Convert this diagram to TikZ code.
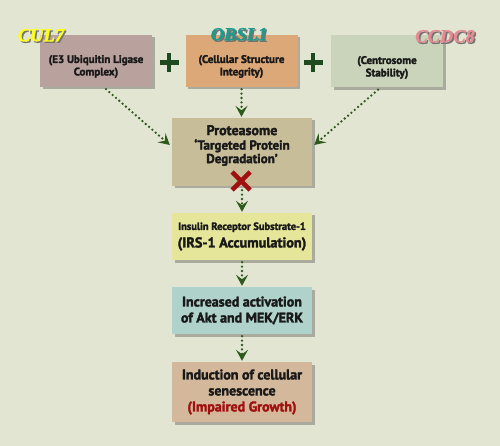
\documentclass[tikz,border=0pt]{standalone}
\usepackage{fontspec}
\setmainfont{PT Sans}[BoldFeatures={FakeBold=2.2}]
\newfontfamily\genefont{Liberation Serif}[BoldItalicFeatures={FakeBold=1.5}]
\usepackage{tikz}
\usetikzlibrary{arrows.meta,shadows}

\definecolor{bgcol}{HTML}{E3E5D3}
\definecolor{arrowgreen}{HTML}{2E5A1C}
\definecolor{plusgreen}{HTML}{1F4A1F}
\definecolor{culfill}{HTML}{B9A29D}
\definecolor{obslfill}{HTML}{DDA877}
\definecolor{ccdcfill}{HTML}{C9D4BA}
\definecolor{protfill}{HTML}{C7BD98}
\definecolor{irsfill}{HTML}{E6E69A}
\definecolor{aktfill}{HTML}{AFD3CB}
\definecolor{senfill}{HTML}{D3B89B}
\definecolor{crossred}{HTML}{A01010}
\definecolor{culyellow}{HTML}{FFFF10}
\definecolor{obslteal}{HTML}{1E9A8C}
\definecolor{ccdcpink}{HTML}{E48A90}

% gene name with its own offset shadow
\newcommand*{\shadedname}[2]{%
    \makebox[0pt][l]{\hspace{1.5pt}\raisebox{-1.5pt}{\textcolor{black!55}{#2}}}%
    \textcolor{#1}{#2}}

\begin{document}
\begin{tikzpicture}[
    x=1pt, y=-1pt,
    box/.style={
        rectangle, inner sep=0pt, align=center, text=black!90,
        font=\bfseries\fontsize{14}{16}\selectfont,
        drop shadow={shadow xshift=2.5pt, shadow yshift=-2.5pt,
                     fill=black, opacity=0.25}
    },
    topbox/.style={box, minimum width=112pt, minimum height=52pt},
    lowbox/.style={box, minimum width=140pt},
    boxtext/.style={inner sep=0pt, align=center, text=black!90},
    toptext/.style={boxtext, font=\bfseries\fontsize{11}{12.5}\selectfont},
    genelabel/.style={font=\genefont\bfseries\itshape\fontsize{18.5}{18}\selectfont,
                      inner sep=0pt},
    dotarrow/.style={arrowgreen, line width=2.6pt, line cap=round,
                     dash pattern=on 0pt off 4.4pt,
                     -{Stealth[length=11pt, width=12pt, inset=4.5pt, line cap=butt]}},
    plusmark/.style={plusgreen, line width=4.8pt},
    crossmark/.style={crossred, line width=4.6pt}
]
    \useasboundingbox[fill=bgcol] (0,0) rectangle (500,446);

    % top row
    \node[topbox, fill=culfill] (cul) at (96,61) {};
    \node[topbox, fill=obslfill] (obsl) at (241.5,61) {};
    \node[topbox, fill=ccdcfill] (ccdc) at (387,61.5) {};
    \node[toptext] (culText) at (96,66.5) {(E3 Ubiquitin Ligase\\Complex)};
    \node[toptext] (obslText) at (241.5,66.5) {(Cellular Structure\\Integrity)};
    \node[toptext] (ccdcText) at (387,67.5) {(Centrosome\\Stability)};

    % gene names
    \foreach \name/\px/\py/\col in {CUL7/41/36/culyellow,
                                    OBSL1/239/35/obslteal,
                                    CCDC8/445/37/ccdcpink} {
        \node[genelabel] (lbl\name) at (\px,\py) {\shadedname{\col}{\name}};
    }

    % plus signs
    \draw[plusmark] (169,53) -- (169,72) (159.5,62.5) -- (178.5,62.5);
    \draw[plusmark] (313,53) -- (313,72) (303.5,62.5) -- (322.5,62.5);

    % pathway
    \node[lowbox, fill=protfill, minimum height=68pt] (prot) at (242,152) {};
    \node[boxtext, font=\bfseries\fontsize{13}{13.5}\selectfont] (protText) at (242,145.5)
        {\fontsize{14}{14}\selectfont Proteasome\\[1pt]
         \fontsize{13}{13.5}\selectfont ‘Targeted Protein\\Degradation’};
    \node[lowbox, fill=irsfill, minimum height=47pt] (irs) at (242,236.5)
        {\fontsize{10.5}{10}\selectfont Insulin Receptor Substrate-1\\[1.5pt]
         \fontsize{14.2}{14}\selectfont (IRS-1 Accumulation)};
    \node[lowbox, fill=aktfill, minimum height=47pt] (akt) at (242,310.5)
        {Increased activation\\of Akt and MEK/ERK};
    \node[lowbox, fill=senfill, minimum height=60pt] (sen) at (242,392)
        {Induction of cellular\\senescence\\\textcolor{crossred}{(Impaired Growth)}};

    % connectors
    \draw[dotarrow] ([xshift=10pt, yshift=-2pt]cul.south) -- ([xshift=-2pt, yshift=7pt]prot.west);
    \draw[dotarrow] ([xshift=-9pt, yshift=-2pt]ccdc.south) -- ([xshift=2pt, yshift=7pt]prot.east);
    \draw[dotarrow] ([yshift=-2pt]obsl.south) -- ([yshift=1pt]obsl.south |- prot.north);
    \draw[dotarrow] ([yshift=-4pt]prot.south) -- ([yshift=1pt]irs.north);
    \draw[dotarrow] ([yshift=-2pt]irs.south) -- ([yshift=1pt]akt.north);
    \draw[dotarrow] ([yshift=-2pt]akt.south) -- ([yshift=1pt]sen.north);

    % blocked step
    \draw[crossmark] (232,172) -- (250,190) (250,172) -- (232,190);
\end{tikzpicture}
\end{document}
